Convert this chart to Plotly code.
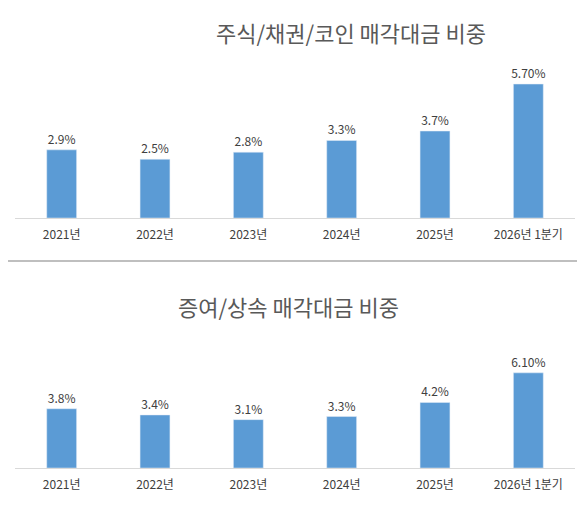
import plotly.graph_objects as go

W, H = 585, 511
OFF = 8  # page offset seen in the render

categories = ["2021년", "2022년", "2023년", "2024년", "2025년", "2026년 1분기"]
stock_values = [2.9, 2.5, 2.8, 3.3, 3.7, 5.7]
stock_labels = ["2.9%", "2.5%", "2.8%", "3.3%", "3.7%", "5.70%"]
gift_values = [3.8, 3.4, 3.1, 3.3, 4.2, 6.1]
gift_labels = ["3.8%", "3.4%", "3.1%", "3.3%", "4.2%", "6.10%"]

font = "Noto Sans CJK KR"
blue = "#5b9bd5"

def py(p):
    return 1 - (p - OFF) / H

def px(p):
    return (p - OFF) / W

fig = go.Figure()
fig.add_trace(go.Bar(x=categories, y=stock_values, text=stock_labels,
                     textposition="outside", marker_color=blue,
                     xaxis="x", yaxis="y", cliponaxis=False))
fig.add_trace(go.Bar(x=categories, y=gift_values, text=gift_labels,
                     textposition="outside", marker_color=blue,
                     xaxis="x2", yaxis="y2", cliponaxis=False))
fig.update_traces(textfont=dict(size=12, color="#404040", family=font),
                  constraintext="none")

xcommon = dict(domain=[px(15), px(575)], showline=True, linecolor="#d9d9d9",
               ticks="", ticklabelstandoff=6,
               tickfont=dict(size=12, color="#404040", family=font))
ycommon = dict(visible=False, showgrid=False)

fig.update_layout(
    width=W, height=H, margin=dict(l=0, r=0, t=0, b=0),
    plot_bgcolor="white", paper_bgcolor="white", showlegend=False,
    bargap=0.68,
    xaxis=dict(anchor="y", **xcommon),
    yaxis=dict(domain=[py(218), py(40)], range=[0, 178 / 23.5], **ycommon),
    xaxis2=dict(anchor="y2", **xcommon),
    yaxis2=dict(domain=[py(468), py(320)], range=[0, 148 / 15.6], **ycommon),
    annotations=[
        dict(text="주식/채권/코인 매각대금 비중", x=px(351), y=py(14), yanchor="top",
             xref="paper", yref="paper", showarrow=False,
             font=dict(size=22, color="#595959", family=font)),
        dict(text="증여/상속 매각대금 비중", x=px(288), y=py(288), yanchor="top",
             xref="paper", yref="paper", showarrow=False,
             font=dict(size=22, color="#595959", family=font)),
    ],
    shapes=[
        dict(type="line", xref="paper", yref="paper", x0=0, x1=1, y0=py(261), y1=py(261),
             line=dict(color="#bfbfbf", width=2)),
        dict(type="line", xref="paper", yref="paper", x0=px(580), x1=px(580), y0=0, y1=1,
             line=dict(color="#d9d9d9", width=1)),
    ],
)

fig.write_html("out.html")
